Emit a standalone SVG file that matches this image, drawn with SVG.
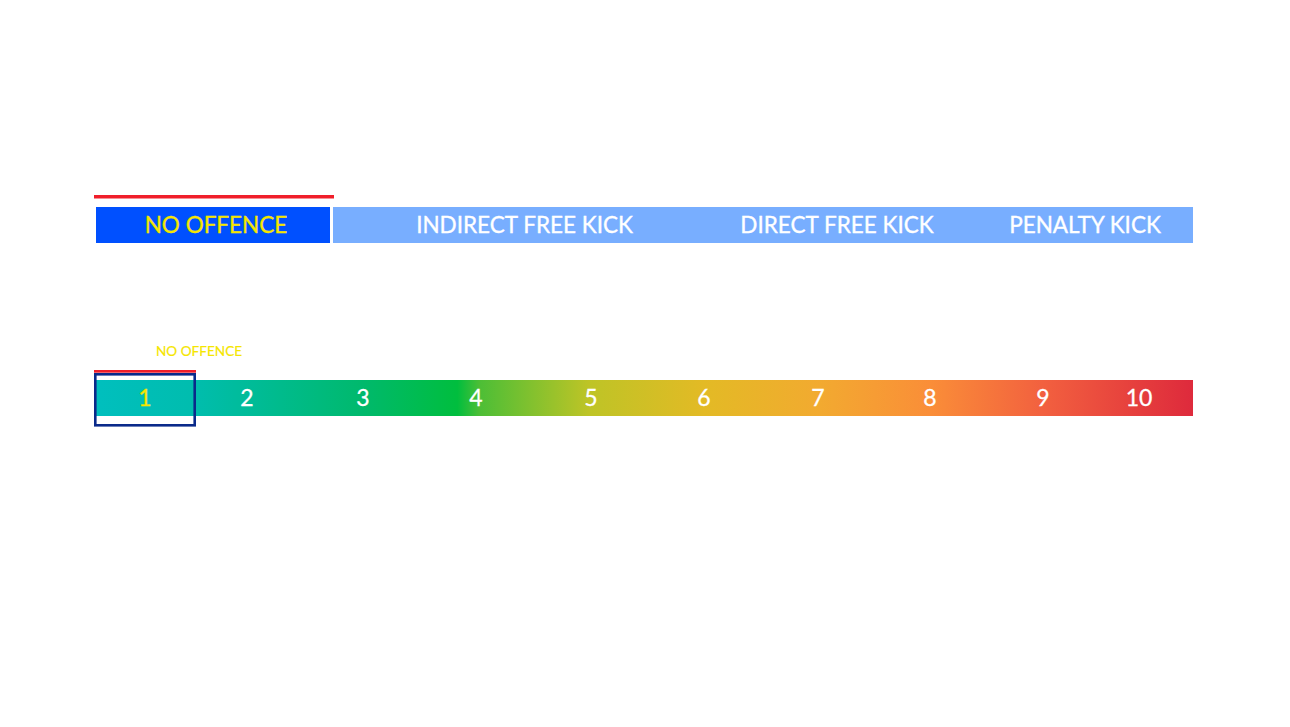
<svg xmlns="http://www.w3.org/2000/svg" width="1290" height="727" viewBox="0 0 1290 727">
<style>
.hdr{font-family:Lato,"Open Sans","DejaVu Sans",sans-serif;font-size:22.5px;text-anchor:middle;stroke-width:0.35px}
.num{font-family:Lato,"Open Sans","DejaVu Sans",sans-serif;font-size:23px;fill:#ffffff;stroke:#ffffff;stroke-width:0.3px;text-anchor:middle}
.w{fill:#ffffff;stroke:#ffffff}
.y{fill:#F5E600;stroke:#F5E600}
</style>
<defs>
<linearGradient id="scale" x1="95" y1="0" x2="1193" y2="0" gradientUnits="userSpaceOnUse">
<stop offset="0" stop-color="#00BFBE"/>
<stop offset="0.09" stop-color="#00BDAE"/>
<stop offset="0.244" stop-color="#00B96C"/>
<stop offset="0.33" stop-color="#00BE3E"/>
<stop offset="0.35" stop-color="#4CBE36"/>
<stop offset="0.45" stop-color="#BEC426"/>
<stop offset="0.555" stop-color="#E3BA25"/>
<stop offset="0.66" stop-color="#F2AA30"/>
<stop offset="0.76" stop-color="#FA8E38"/>
<stop offset="0.864" stop-color="#F2603F"/>
<stop offset="1" stop-color="#DE2A3C"/>
</linearGradient>
</defs>
<rect width="1290" height="727" fill="#ffffff"/>
<g id="top-scale">
<rect x="94" y="195" width="240" height="3.5" fill="#F01E2A"/>
<g id="no-offence-band">
<rect x="96" y="207" width="234" height="36" fill="#0050FF"/>
<text class="hdr y" x="216" y="233">NO OFFENCE</text>
</g>
<g id="sanctions-band">
<rect x="333" y="207" width="860" height="36" fill="#78AEFF"/>
<text class="hdr w" x="524.5" y="233">INDIRECT FREE KICK</text>
<text class="hdr w" x="837" y="233">DIRECT FREE KICK</text>
<text class="hdr w" x="1085" y="233">PENALTY KICK</text>
</g>
</g>
<g id="bottom-scale">
<text x="199" y="356" font-family="Lato,'Open Sans','DejaVu Sans',sans-serif" font-size="13.6" fill="#F5E600" stroke="#F5E600" stroke-width="0.2" text-anchor="middle">NO OFFENCE</text>
<rect x="94" y="370" width="102" height="2.7" fill="#F01E2A"/>
<rect x="95" y="380" width="1098" height="36" fill="url(#scale)"/>
<text class="num" x="145" y="406" style="fill:#F5E600;stroke:#F5E600">1</text>
<text class="num" x="247" y="406">2</text>
<text class="num" x="363" y="406">3</text>
<text class="num" x="476" y="406">4</text>
<text class="num" x="591" y="406">5</text>
<text class="num" x="704" y="406">6</text>
<text class="num" x="818" y="406">7</text>
<text class="num" x="930" y="406">8</text>
<text class="num" x="1043" y="406">9</text>
<text class="num" x="1139" y="406">10</text>
<rect id="selection" x="95.3" y="374.3" width="99.4" height="51" fill="none" stroke="#0A2A8A" stroke-width="2.6"/>
</g>
</svg>
